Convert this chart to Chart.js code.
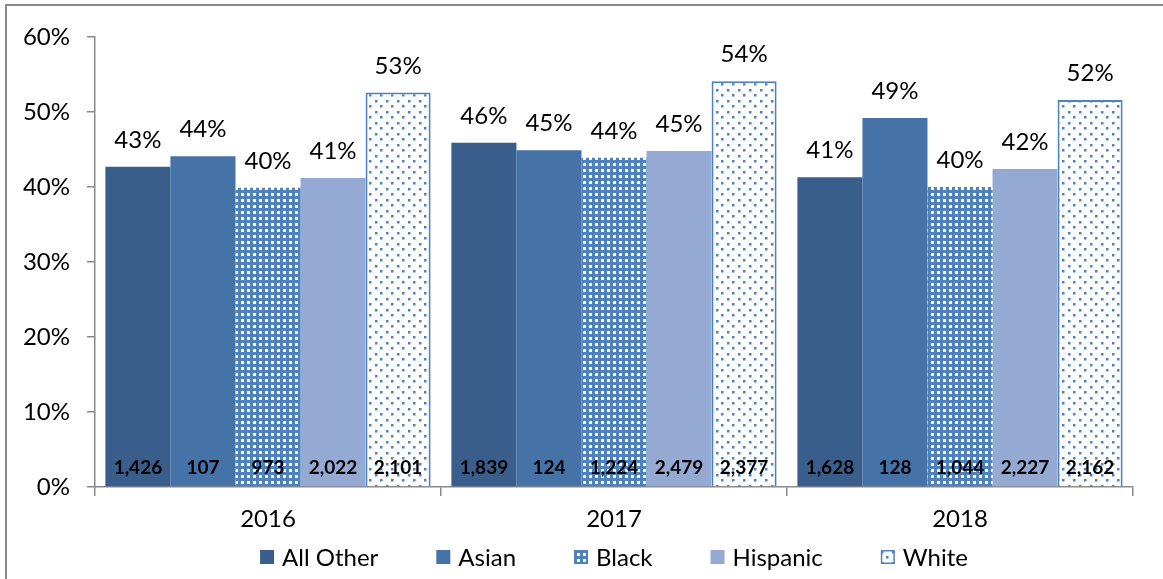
<!DOCTYPE html>
<html>
<head>
<meta charset="utf-8">
<script src="https://cdn.jsdelivr.net/npm/chart.js@4.4.0/dist/chart.umd.min.js"></script>
<style>
html, body { margin: 0; padding: 0; background: #fff; overflow: hidden; }
#cadre { position: absolute; left: 5px; top: 4px; width: 1200px; height: 640px; border: 2px solid #898989; }
#zone { position: absolute; left: 0; top: 0; width: 1163px; height: 579px; }
</style>
</head>
<body>
<div id="cadre"></div>
<div id="zone"><canvas id="grafico" width="1163" height="579"></canvas></div>
<script>
// Dados
const anos = ['2016', '2017', '2018'];
const grupos = ['All Other', 'Asian', 'Black', 'Hispanic', 'White'];

const pctAllOther = [42.7, 45.9, 41.3];
const pctAsian    = [44.1, 44.9, 49.2];
const pctBlack    = [39.9, 43.9, 40.0];
const pctHispanic = [41.2, 44.8, 42.4];
const pctWhite    = [52.6, 54.1, 51.6];

const nAllOther = [1426, 1839, 1628];
const nAsian    = [107, 124, 128];
const nBlack    = [973, 1224, 1044];
const nHispanic = [2022, 2479, 2227];
const nWhite    = [2101, 2377, 2162];

const yMin = 0, yMax = 60, yPasso = 10;

const fonte = 'Lato, "Open Sans", sans-serif';
const cinza = '#898989';

const canvas = document.getElementById('grafico');
const ctx = canvas.getContext('2d');

// padrões de pontos (Black / White)
function padraoPontos(tamanho, fundo, cor, pontos, lado) {
    const c = document.createElement('canvas');
    c.width = tamanho; c.height = tamanho;
    const g = c.getContext('2d');
    g.fillStyle = fundo;
    g.fillRect(0, 0, tamanho, tamanho);
    g.fillStyle = cor;
    pontos.forEach(p => g.fillRect(p[0], p[1], lado, lado));
    return ctx.createPattern(c, 'repeat');
}

const padraoBlack = padraoPontos(6, '#4F81BD', '#ffffff', [[1, 1]], 3);
const padraoWhite = padraoPontos(11, '#ffffff', '#4F81BD', [[1, 1], [6, 6]], 2.5);

const series = [
    { label: grupos[0], data: pctAllOther, contagens: nAllOther, backgroundColor: '#3A5E8C', borderWidth: 0 },
    { label: grupos[1], data: pctAsian, contagens: nAsian, backgroundColor: '#4572A7', borderWidth: 0 },
    { label: grupos[2], data: pctBlack, contagens: nBlack, backgroundColor: padraoBlack, borderWidth: 0 },
    { label: grupos[3], data: pctHispanic, contagens: nHispanic, backgroundColor: '#94AAD2', borderWidth: 0 },
    { label: grupos[4], data: pctWhite, contagens: nWhite, backgroundColor: padraoWhite, borderColor: '#4F81BD', borderWidth: 2 }
];

// rótulos: % em cima, contagem embaixo
const rotulos = {
    id: 'rotulos',
    afterDatasetsDraw(chart) {
        const c = chart.ctx;
        const base = chart.scales.y.getPixelForValue(0);
        chart.data.datasets.forEach((ds, i) => {
            chart.getDatasetMeta(i).data.forEach((barra, j) => {
                c.save();
                c.fillStyle = '#000';
                c.textAlign = 'center';
                c.textBaseline = 'alphabetic';
                c.font = '24px ' + fonte;
                c.fillText(Math.round(ds.data[j]) + '%', barra.x, barra.y - 19);
                c.font = 'bold 19px ' + fonte;
                c.fillText(ds.contagens[j].toLocaleString('en-US'), barra.x, base - 13);
                c.restore();
            });
        });
    }
};

// legenda desenhada à mão
const legenda = {
    id: 'legenda',
    afterDraw(chart) {
        const c = chart.ctx;
        const area = chart.chartArea;
        const caixa = 14, folga = 8, entre = 58, yCentro = 557;
        c.save();
        c.font = '24px ' + fonte;
        const larguras = chart.data.datasets.map(ds => caixa + folga + c.measureText(ds.label).width);
        const total = larguras.reduce((a, b) => a + b, 0) + entre * (larguras.length - 1);
        let x = (area.left + area.right) / 2 - total / 2;
        chart.data.datasets.forEach((ds, i) => {
            c.fillStyle = ds.backgroundColor;
            c.fillRect(x, yCentro - caixa / 2, caixa, caixa);
            if (ds.borderWidth) {
                c.strokeStyle = ds.borderColor;
                c.lineWidth = 1.5;
                c.strokeRect(x + 0.75, yCentro - caixa / 2 + 0.75, caixa - 1.5, caixa - 1.5);
            }
            c.fillStyle = '#000';
            c.textAlign = 'left';
            c.textBaseline = 'middle';
            c.fillText(ds.label, x + caixa + folga, yCentro + 1);
            x += larguras[i] + entre;
        });
        c.restore();
    }
};

new Chart(ctx, {
    type: 'bar',
    data: { labels: anos, datasets: series },
    options: {
        responsive: false,
        animation: false,
        devicePixelRatio: 1,
        layout: { padding: { top: 37, left: 0, right: 30, bottom: 0 } },
        datasets: { bar: { categoryPercentage: 0.94, barPercentage: 1.0 } },
        plugins: { legend: { display: false }, tooltip: { enabled: false } },
        scales: {
            x: {
                grid: { display: true, drawOnChartArea: false, drawTicks: true, tickLength: 9, color: cinza, lineWidth: 1.5, offset: true },
                border: { display: true, color: cinza, width: 1.5 },
                ticks: { color: '#000', font: { family: fonte, size: 24 }, padding: 9 },
                afterFit: s => { s.height = 92; }
            },
            y: {
                min: yMin, max: yMax,
                grid: { display: true, drawOnChartArea: false, drawTicks: true, tickLength: 8, color: cinza, lineWidth: 1.5 },
                border: { display: true, color: cinza, width: 1.5 },
                ticks: { stepSize: yPasso, color: '#000', font: { family: fonte, size: 24 }, padding: 17, callback: v => v + '%' },
                afterFit: s => { s.width = 95; }
            }
        }
    },
    plugins: [rotulos, legenda]
});
</script>
</body>
</html>
